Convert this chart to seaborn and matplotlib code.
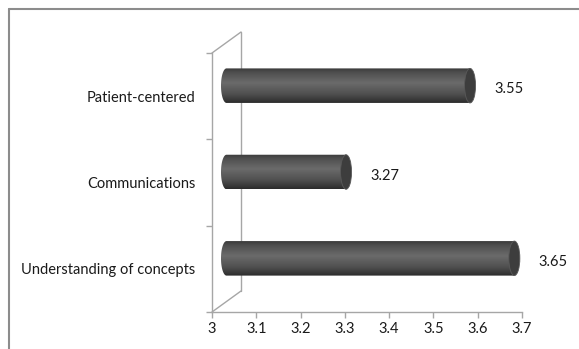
import numpy as np
import pandas as pd
import matplotlib
matplotlib.use("Agg")
import matplotlib.pyplot as plt
import matplotlib.transforms as mtransforms
from matplotlib.colors import LinearSegmentedColormap
from matplotlib.path import Path
from matplotlib.patches import PathPatch, Ellipse
from matplotlib.lines import Line2D
import seaborn as sns

categories = ["Patient-centered", "Communications", "Understanding of concepts"]
scores = [3.55, 3.27, 3.65]
x_ticks = [3.0, 3.1, 3.2, 3.3, 3.4, 3.5, 3.6, 3.7]
x_tick_labels = ["3", "3.1", "3.2", "3.3", "3.4", "3.5", "3.6", "3.7"]

df = pd.DataFrame({"category": categories, "score": scores})

sns.set_theme(style="white")
plt.rcParams["font.family"] = ["Lato", "DejaVu Sans"]

W, H, DPI = 579, 349, 100
fig = plt.figure(figsize=(W / DPI, H / DPI), dpi=DPI)

# plot area: front frame of the pseudo-3D box (pixels from top-left)
px_left, px_right, px_top, px_bottom = 212, 522, 53, 312
ax = fig.add_axes([px_left / W, (H - px_bottom) / H,
                   (px_right - px_left) / W, (px_bottom - px_top) / H])

sns.barplot(data=df, x="score", y="category", orient="h", width=0.4,
            color="#555555", ax=ax)
ax.set_xlim(3.0, 3.7)
ax.set_ylim(2.5, -0.5)
ax.set_xlabel("")
ax.set_ylabel("")

# depth offset of the box (back wall sits 29px right, 21px up)
depth_x, depth_y = 29, 21
half = mtransforms.ScaledTranslation(depth_x / 2 / DPI, depth_y / 2 / DPI, fig.dpi_scale_trans)
full = mtransforms.ScaledTranslation(depth_x / DPI, depth_y / DPI, fig.dpi_scale_trans)
bar_trans = ax.transData + half

cyl = LinearSegmentedColormap.from_list(
    "cyl", [(0.0, "#3a3a3a"), (0.12, "#4e4e4e"), (0.42, "#6b6b6b"),
            (0.75, "#4f4f4f"), (1.0, "#2b2b2b")])
grad = np.linspace(0, 1, 256).reshape(-1, 1)

cap_w = 11 / ((px_right - px_left) / 0.7)  # ellipse width in data units
x0 = ax.get_xlim()[0]
for patch in list(ax.patches):
    y = patch.get_y()
    h = patch.get_height()
    v = patch.get_x() + patch.get_width()
    patch.set_visible(False)
    # cylinder body outline with a rounded left end
    t = np.linspace(np.pi / 2, 3 * np.pi / 2, 48)
    ex = x0 + cap_w / 2 * np.cos(t)
    ey = y + h / 2 + h / 2 * np.sin(t)
    verts = [(x0, y), (v, y), (v, y + h)] + list(zip(ex, ey))
    verts.append((x0, y))
    codes = [Path.MOVETO] + [Path.LINETO] * (len(verts) - 2) + [Path.CLOSEPOLY]
    clip = PathPatch(Path(verts, codes), transform=bar_trans,
                     facecolor="none", edgecolor="none")
    ax.add_patch(clip)
    im = ax.imshow(grad, cmap=cyl, aspect="auto", interpolation="bilinear",
                   extent=(x0 - cap_w, v, y + h, y), transform=bar_trans, zorder=3)
    im.set_clip_path(clip)
    cap = Ellipse((v, y + h / 2), width=cap_w, height=h, transform=bar_trans,
                  facecolor="#3d3d3d", edgecolor="#595959", linewidth=0.6,
                  zorder=4, clip_on=False)
    ax.add_patch(cap)

for cat_i, v in enumerate(scores):
    ax.annotate(f"{v:.2f}", xy=(v, cat_i), xytext=(28, 5), textcoords="offset points",
                ha="left", va="center", fontsize=10.5, color="#1a1a1a",
                annotation_clip=False)

# axes frame and back wall
frame_col = "#a6a6a6"
for side in ["top", "right"]:
    ax.spines[side].set_visible(False)
for side in ["left", "bottom"]:
    ax.spines[side].set_color(frame_col)
    ax.spines[side].set_linewidth(1.0)
ax.plot([0, 0], [0, 1], transform=ax.transAxes + full, color=frame_col,
        lw=1.0, clip_on=False)
for py in (px_top, px_bottom):
    ax.add_line(Line2D([px_left, px_left + depth_x], [H - py, H - py + depth_y],
                       transform=None, color=frame_col, lw=1.0, clip_on=False))

ax.set_xticks(x_ticks)
ax.set_xticklabels(x_tick_labels)
ax.set_yticks(range(len(categories)))
ax.set_yticklabels(categories)
ax.set_yticks([-0.5, 0.5, 1.5, 2.5], minor=True)
ax.tick_params(axis="x", which="major", direction="out", length=4, width=1.0,
               color=frame_col, pad=3, labelsize=10.5, labelcolor="#1a1a1a", bottom=True)
ax.tick_params(axis="y", which="major", length=0, pad=12, labelsize=10.5,
               labelcolor="#1a1a1a")
ax.tick_params(axis="y", which="minor", direction="out", length=4, width=1.0,
               color=frame_col, left=True)
ax.grid(False)

# outer chart border (top and left edges)
fig.add_artist(Line2D([8.5 / W, 1.0], [1 - 8.5 / H, 1 - 8.5 / H],
                      transform=fig.transFigure, color="#8c8c8c", lw=1.5))
fig.add_artist(Line2D([8.5 / W, 8.5 / W], [0, 1 - 8.5 / H],
                      transform=fig.transFigure, color="#8c8c8c", lw=1.5))

fig.savefig("out.png", dpi=DPI)
